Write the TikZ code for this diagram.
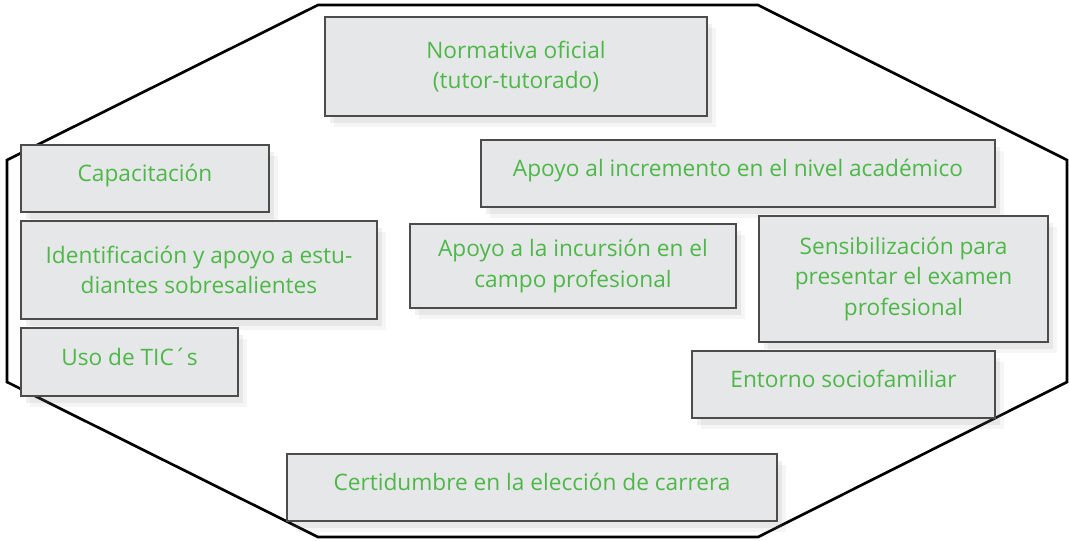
\documentclass[tikz,border=0pt]{standalone}
\usepackage{fontspec}
\setmainfont{Open Sans}
\usetikzlibrary{shadows}
\definecolor{vertlogo}{RGB}{77,184,72}
\definecolor{grisboite}{RGB}{230,231,232}
\tikzset{
	boite/.style={draw=black!70,fill=grisboite,line width=0.8pt,text=vertlogo,align=center,inner sep=0pt,
		font=\fontsize{17}{23}\selectfont,
		drop shadow={shadow xshift=7pt,shadow yshift=-8pt,opacity=0.08},
		drop shadow={shadow xshift=4pt,shadow yshift=-5pt,opacity=0.12}},
	taille/.style 2 args={minimum width=#1*0.75pt,minimum height=#2*0.75pt},
	ligne/.style={text height=13pt,text depth=7.8pt}
}

\begin{document}
\begin{tikzpicture}[x=0.75pt,y=-0.75pt]
	\useasboundingbox (0,0) rectangle (1069,540);
	\draw[line width=2pt,line join=miter] (318,5) -- (758,5) -- (1067,160) -- (1067,382) -- (758,537) -- (318,537) -- (7,382) -- (7,160) -- cycle; % l'octogone
	\node[boite,taille={382}{99}] (normativa) at (516,66.5) {Normativa oficial\\(tutor-tutorado)};
	\node[boite,ligne,taille={248}{67}] (capacitacion) at (145,178.5) {Capacitación};
	\node[boite,ligne,taille={514}{67}] (incremento) at (738,173.5) {Apoyo al incremento en el nivel académico};
	\node[boite,taille={356}{98}] (identificacion) at (199,270) {Identificación y apoyo a estu-\\diantes sobresalientes};
	\node[boite,taille={326}{84}] (incursion) at (573,266) {Apoyo a la incursión en el\\campo profesional};
	\node[boite,taille={289}{126}] (sensibilizacion) at (903.5,279) {Sensibilización para\\presentar el examen\\profesional};
	\node[boite,ligne,taille={217}{68}] (tic) at (129.5,362) {Uso de TIC´s};
	\node[boite,ligne,taille={303}{67}] (entorno) at (843.5,384.5) {Entorno sociofamiliar};
	\node[boite,ligne,taille={490}{67}] (certidumbre) at (532,487.5) {Certidumbre en la elección de carrera};
\end{tikzpicture}
\end{document}
